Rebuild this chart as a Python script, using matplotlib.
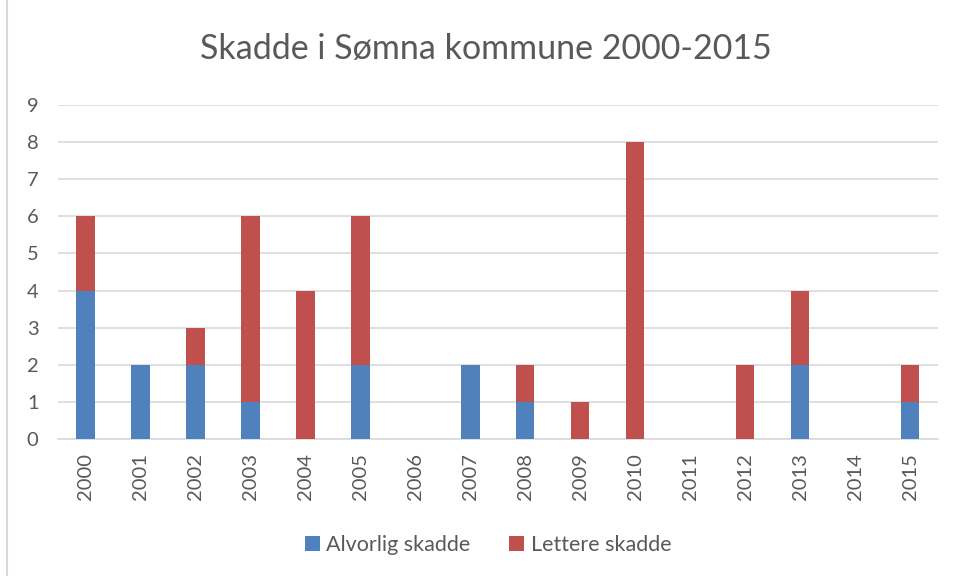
import matplotlib.pyplot as plt
import matplotlib.patches as mpatches
import numpy as np

years = ["2000", "2001", "2002", "2003", "2004", "2005", "2006", "2007",
         "2008", "2009", "2010", "2011", "2012", "2013", "2014", "2015"]
alvorlig = [4, 2, 2, 1, 0, 2, 0, 2, 1, 0, 0, 0, 0, 2, 0, 1]
lettere = [2, 0, 1, 5, 4, 4, 0, 0, 1, 1, 8, 0, 2, 2, 0, 1]

plt.rcParams["font.family"] = ["Lato", "DejaVu Sans"]
txt = "#595959"

fig = plt.figure(figsize=(9.57, 5.76), dpi=100)
ax = fig.add_axes([0.0606, 0.2378, 0.9194, 0.5799])

x = np.arange(len(years))
w = 0.33
ax.bar(x, alvorlig, w, color="#4F81BD", label="Alvorlig skadde", zorder=3)
ax.bar(x, lettere, w, bottom=alvorlig, color="#C0504D", label="Lettere skadde", zorder=3)

ax.set_xlim(-0.5, len(years) - 0.5)
ax.set_ylim(0, 9)
ax.set_yticks(range(10))
ax.set_xticks(x)
ax.set_xticklabels(years, rotation=90)
ax.tick_params(axis="both", length=0, labelsize=14.5, colors=txt)
ax.tick_params(axis="y", pad=14)
ax.tick_params(axis="x", pad=10)
ax.grid(axis="y", color="#D9D9D9", linewidth=1.2, zorder=0)
for s in ["top", "right", "left"]:
    ax.spines[s].set_visible(False)
ax.spines["bottom"].set_color("#D9D9D9")
ax.spines["bottom"].set_linewidth(1.2)

fig.text(0.508, 0.915, "Skadde i Sømna kommune 2000-2015", ha="center", va="center",
         fontsize=24.5, color=txt)

fig.legend(loc="center", bbox_to_anchor=(0.51, 0.053), ncol=2, frameon=False,
           fontsize=15.5, labelcolor=txt, handlelength=0.7, handleheight=0.7,
           handletextpad=0.3, columnspacing=1.8)

fig.patches.append(mpatches.Rectangle((0.007, -0.01), 1.0, 1.02, transform=fig.transFigure,
                                      fill=False, edgecolor="#D9D9D9", linewidth=1.5))

fig.savefig("out.png", dpi=100)
